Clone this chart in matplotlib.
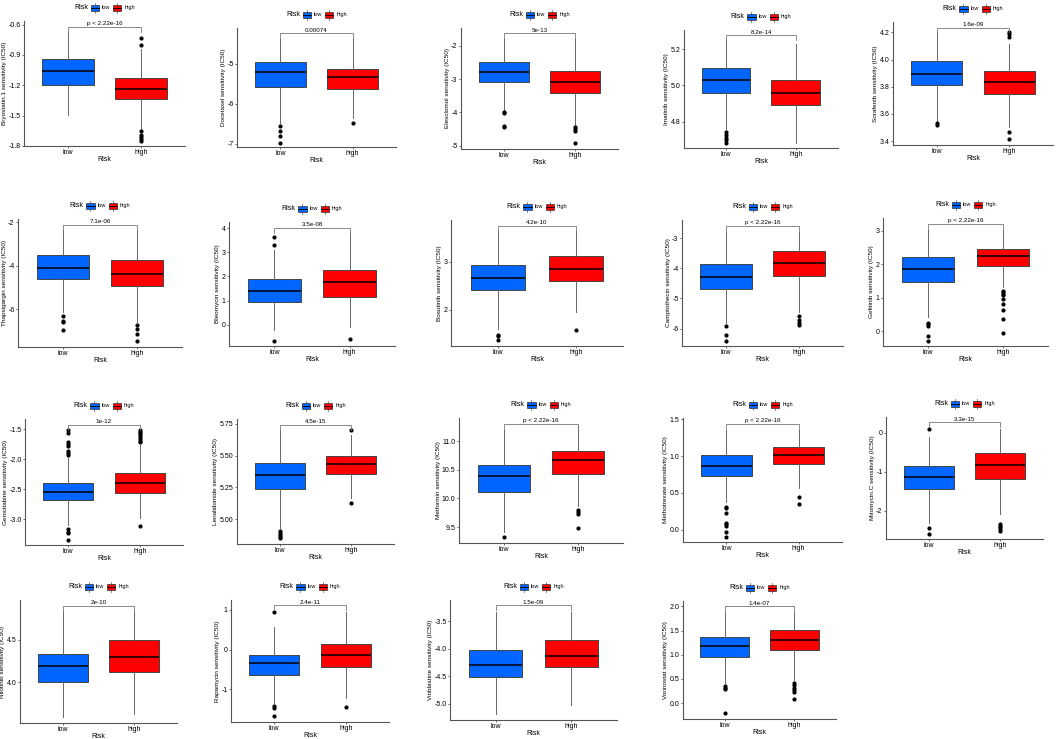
import matplotlib
matplotlib.use("Agg")
import matplotlib.pyplot as plt
from matplotlib.patches import Rectangle
from matplotlib.lines import Line2D
from matplotlib.offsetbox import AnchoredOffsetbox, HPacker, TextArea, DrawingArea
from matplotlib.ticker import MultipleLocator, FormatStrFormatter

plt.rcParams["font.family"] = ["Liberation Sans", "DejaVu Sans"]
plt.rcParams["axes.unicode_minus"] = False

# -------- DATA --------
drugs = ["Bryostatin.1", "Docetaxel", "Elesclomol", "Imatinib", "Sorafenib",
         "Thapsigargin", "Bleomycin", "Bosutinib", "Camptothecin", "Gefitinib",
         "Gemcitabine", "Lenalidomide", "Metformin", "Methotrexate", "Mitomycin.C",
         "Nilotinib", "Rapamycin", "Vinblastine", "Vorinostat"]

pvals = ["p < 2.22e-16", "0.00074", "5e-13", "8.2e-14", "1.6e-09",
         "7.1e-06", "3.5e-08", "4.2e-10", "p < 2.22e-16", "p < 2.22e-16",
         "1e-12", "4.5e-15", "p < 2.22e-16", "p < 2.22e-16", "3.3e-15",
         "2e-10", "2.4e-11", "1.5e-09", "1.4e-07"]

# [whisker low, q1, median, q3, whisker high]
low_stats = [
    [-1.496, -1.196, -1.061, -0.943, -0.672],
    [-6.48, -5.59, -5.21, -4.95, -4.37],
    [-3.92, -3.09, -2.79, -2.49, -1.80],
    [4.761, 4.959, 5.033, 5.094, 5.252],
    [3.542, 3.811, 3.897, 3.987, 4.20],
    [-6.11, -4.62, -4.08, -3.51, -2.34],
    [-0.20, 0.96, 1.41, 1.88, 3.11],
    [1.60, 2.41, 2.66, 2.93, 3.63],
    [-5.83, -4.67, -4.28, -3.86, -2.78],
    [0.43, 1.48, 1.87, 2.21, 3.03],
    [-3.09, -2.68, -2.55, -2.39, -1.98],
    [4.929, 5.236, 5.346, 5.44, 5.703],
    [9.42, 10.12, 10.39, 10.59, 11.20],
    [0.38, 0.73, 0.87, 1.02, 1.36],
    [-2.31, -1.45, -1.12, -0.85, -0.10],
    [3.59, 3.996, 4.19, 4.33, 4.83],
    [-1.33, -0.64, -0.33, -0.125, 0.58],
    [-5.19, -4.52, -4.29, -4.02, -3.32],
    [0.42, 0.96, 1.18, 1.36, 1.88],
]
high_stats = [
    [-1.644, -1.338, -1.232, -1.127, -0.837],
    [-6.36, -5.64, -5.33, -5.12, -4.37],
    [-4.37, -3.42, -3.09, -2.75, -1.80],
    [4.681, 4.891, 4.959, 5.033, 5.228],
    [3.505, 3.745, 3.835, 3.914, 4.117],
    [-6.57, -4.92, -4.37, -3.74, -2.34],
    [-0.10, 1.17, 1.79, 2.25, 3.80],
    [1.94, 2.60, 2.85, 3.11, 3.63],
    [-5.44, -4.24, -3.83, -3.42, -2.78],
    [1.33, 1.95, 2.24, 2.46, 3.03],
    [-2.98, -2.56, -2.40, -2.23, -1.76],
    [5.165, 5.354, 5.433, 5.493, 5.663],
    [9.86, 10.43, 10.67, 10.84, 11.29],
    [0.56, 0.89, 1.01, 1.13, 1.36],
    [-2.08, -1.18, -0.81, -0.51, 0.11],
    [3.63, 4.124, 4.295, 4.49, 4.83],
    [-1.21, -0.425, -0.14, 0.15, 0.96],
    [-5.02, -4.34, -4.13, -3.84, -3.32],
    [0.48, 1.10, 1.31, 1.52, 1.88],
]
low_outliers = [
    [],
    [-6.55, -6.67, -6.80, -6.97],
    [-3.98, -4.02, -4.42, -4.45],
    [4.743, 4.724, 4.711, 4.70, 4.681],
    [3.53, 3.517],
    [-6.29, -6.52, -6.57, -6.95],
    [3.63, 3.30, -0.67],
    [1.48, 1.44, 1.36],
    [-5.92, -6.23, -6.40],
    [0.25, 0.21, 0.17, -0.13, -0.28],
    [-1.51, -1.56, -1.71, -1.74, -1.78, -1.87, -1.90, -1.93, -3.17, -3.21, -3.23, -3.34],
    [4.91, 4.89, 4.877, 4.864, 4.85],
    [9.32],
    [0.31, 0.29, 0.22, 0.09, 0.07, 0.05, -0.04, -0.10],
    [0.11, -2.43, -2.59],
    [],
    [0.96, -1.42, -1.46, -1.67],
    [],
    [0.35, 0.32, 0.29, -0.21],
]
high_outliers = [
    [-0.732, -0.798, -1.654, -1.69, -1.71, -1.726, -1.753],
    [-6.48],
    [-4.45, -4.50, -4.57, -4.92],
    [],
    [4.20, 4.19, 4.165, 3.464, 3.412],
    [-6.72, -6.88, -7.14, -7.45],
    [-0.57],
    [1.58],
    [-5.59, -5.70, -5.81, -5.89],
    [1.20, 1.16, 1.12, 1.08, 0.95, 0.80, 0.63, 0.38, -0.04],
    [-1.51, -1.54, -1.57, -1.60, -1.63, -1.66, -1.69, -1.71, -3.11],
    [5.703, 5.131],
    [9.79, 9.76, 9.72, 9.49],
    [0.445, 0.35],
    [-2.34, -2.38, -2.42, -2.46, -2.51],
    [],
    [-1.44],
    [],
    [0.42, 0.37, 0.31, 0.26, 0.22, 0.075],
]

groups = ["low", "high"]

# -------- LAYOUT (pixel box of each panel, y range, tick step, decimals) --------
boxes_px = [
    (24, 21, 185, 146), (237, 28, 396, 147), (461, 28, 618, 149), (684, 30, 838, 148), (893, 22, 1053, 145),
    (18, 219, 182, 347), (229, 222, 395, 346), (451, 220, 623, 346), (682, 220, 843, 346), (883, 218, 1048, 346),
    (25, 419, 183, 545), (237, 419, 394, 544), (459, 418, 623, 543), (683, 418, 842, 542), (886, 417, 1043, 539),
    (20, 600, 177, 723), (231, 600, 389, 722), (450, 600, 617, 720), (683, 601, 836, 719),
]
ylims = [(-1.80, -0.564), (-7.08, -4.10), (-5.10, -1.47), (4.654, 5.307), (3.371, 4.276),
         (-7.72, -1.85), (-0.87, 4.25), (1.24, 3.87), (-6.58, -2.39), (-0.44, 3.38),
         (-3.43, -1.33), (4.806, 5.787), (9.22, 11.41), (-0.17, 1.52), (-2.72, 0.41),
         (3.52, 4.965), (-1.82, 1.25), (-5.30, -3.11), (-0.33, 2.11)]
steps = [0.3, 1, 1, 0.2, 0.2, 2, 1, 1, 1, 1, 0.5, 0.25, 0.5, 0.5, 1, 0.5, 1, 0.5, 0.5]
decimals = [1, 0, 0, 1, 1, 0, 0, 0, 0, 0, 1, 2, 1, 1, 0, 1, 0, 1, 1]

colors = ["#0066FF", "#FF0000"]
W, H = 1059, 739

fig = plt.figure(figsize=(W / 100, H / 100), dpi=100)


def key_icon(color):
    da = DrawingArea(6, 6, 0, 0)
    da.add_artist(Line2D([3, 3], [-0.5, 6.5], color="#555555", lw=0.5))
    da.add_artist(Rectangle((0, 1), 6, 4, facecolor=color, edgecolor="#333333", lw=0.5))
    da.add_artist(Line2D([0, 6], [3, 3], color="black", lw=0.6))
    return da


for i, drug in enumerate(drugs):
    x0, y0, x1, y1 = boxes_px[i]
    ax = fig.add_axes([x0 / W, 1 - y1 / H, (x1 - x0) / W, (y1 - y0) / H])

    stats = []
    for s, fl, g in [(low_stats[i], low_outliers[i], "low"), (high_stats[i], high_outliers[i], "high")]:
        stats.append({"whislo": s[0], "q1": s[1], "med": s[2], "q3": s[3],
                      "whishi": s[4], "fliers": fl, "label": g})

    bp = ax.bxp(stats, positions=[1, 2], widths=0.7, patch_artist=True, showcaps=False,
                boxprops=dict(edgecolor="#444444", linewidth=0.7),
                whiskerprops=dict(color="#666666", linewidth=0.7),
                medianprops=dict(color="black", linewidth=1.1),
                flierprops=dict(marker="o", markersize=2, markerfacecolor="black",
                                markeredgecolor="black", linestyle="none"))
    for patch, c in zip(bp["boxes"], colors):
        patch.set_facecolor(c)

    lo, hi = ylims[i]
    ax.set_ylim(lo, hi)
    ax.set_xlim(0.4, 2.6)
    ax.set_xticks([1, 2])
    ax.set_xticklabels(groups)
    ax.yaxis.set_major_locator(MultipleLocator(steps[i]))
    ax.yaxis.set_major_formatter(FormatStrFormatter("%%.%df" % decimals[i]))

    for side in ["top", "right"]:
        ax.spines[side].set_visible(False)
    for side in ["left", "bottom"]:
        ax.spines[side].set_color("#555555")
        ax.spines[side].set_linewidth(0.8)
    ax.tick_params(labelsize=5, length=1.5, width=0.6, pad=1, color="#555555")

    ax.set_ylabel(drug + " sensitivity (IC50)", fontsize=4.6, labelpad=1)
    ax.set_xlabel("Risk", fontsize=5, labelpad=0)

    # p-value bracket
    rng = hi - lo
    yb = hi - 0.045 * rng
    tip = 0.04 * rng
    ax.plot([1, 1, 2, 2], [yb - tip, yb, yb, yb - tip], color="#777777", lw=0.6)
    ax.text(1.5, yb + 0.005 * rng, pvals[i], ha="center", va="bottom", fontsize=4.5)

    # legend on top
    items = [TextArea("Risk", textprops=dict(fontsize=5)),
             key_icon(colors[0]), TextArea("low", textprops=dict(fontsize=4)),
             key_icon(colors[1]), TextArea("high", textprops=dict(fontsize=4))]
    pack = HPacker(children=items, align="center", pad=0, sep=2)
    anc = AnchoredOffsetbox(loc="lower center", child=pack, pad=0, borderpad=0, frameon=False,
                            bbox_to_anchor=(0.5, 1 + 9 / (y1 - y0)), bbox_transform=ax.transAxes)
    ax.add_artist(anc)

fig.savefig("out.png", dpi=100, facecolor="white")
